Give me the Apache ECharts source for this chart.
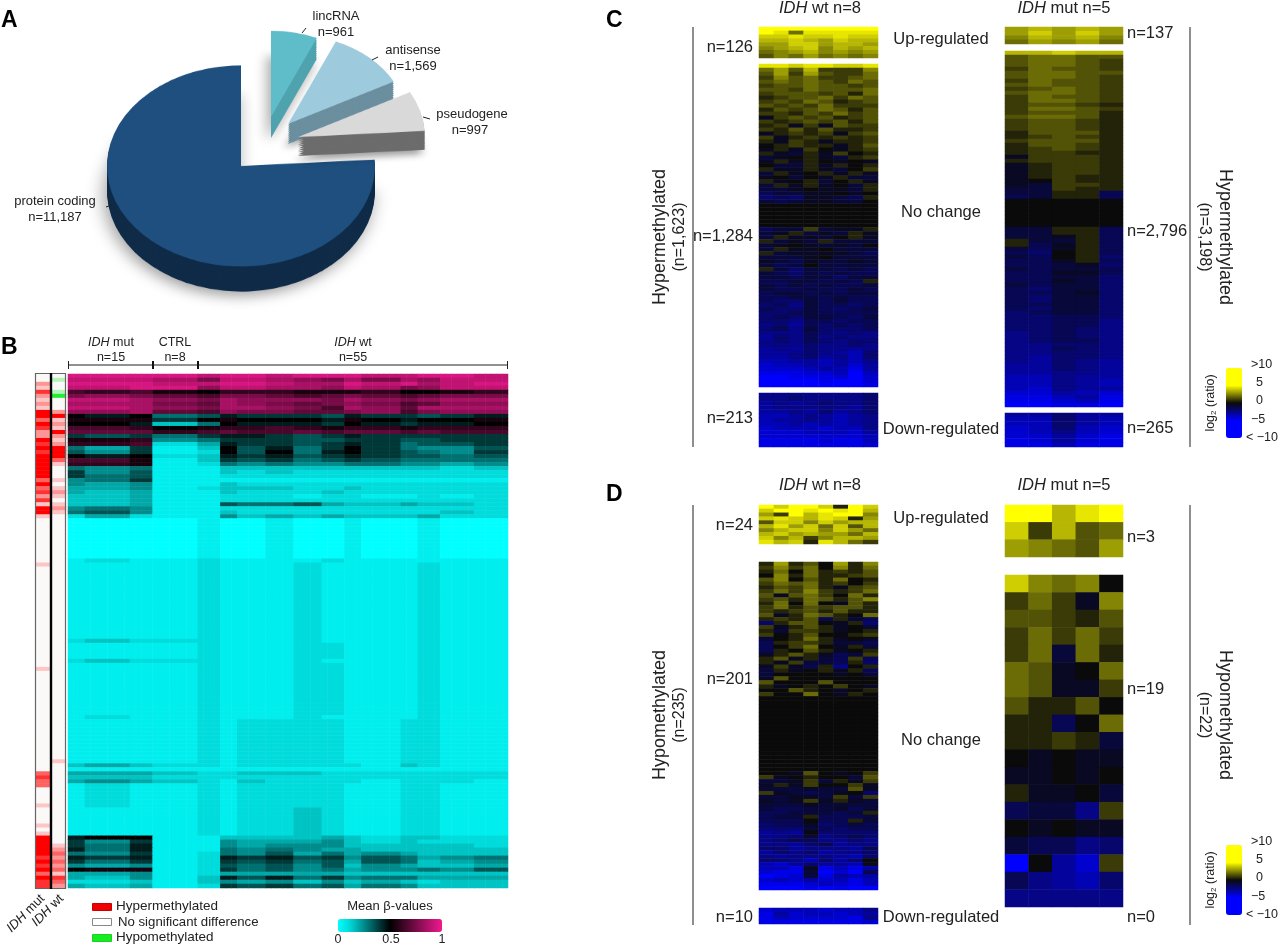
<!DOCTYPE html>
<html>
<head>
<meta charset="utf-8">
<script src="https://cdn.jsdelivr.net/npm/echarts@6/dist/echarts.min.js"></script>
<style>
html,body{margin:0;padding:0;background:#fff;width:1280px;height:946px;overflow:hidden}
#pie{position:absolute;left:0;top:0;width:560px;height:420px;transform-origin:0 0;transform:scaleY(.75)}
#main{position:absolute;left:0;top:0;width:1280px;height:946px}
</style>
</head>
<body>
<div id="pie"></div>
<div id="main"></div>
<script>
// ---------- Panel A ----------
const pieNames = ['lincRNA', 'antisense', 'pseudogene', 'protein coding'];
const pieValues = [961, 1569, 997, 11187];

// ---------- Panel B: levels 0..k = beta 0..1 (20 steps); columns grouped in blocks ----------
const bBlockColumns = [3, 8, 4, 8, 4, 3, 5, 5, 5, 4, 3, 7, 3, 4, 6, 6];
const bRowsTop = [
"jjjjijjijjjiijji","iiihfiihgfhfhgii","jjjiijjihhjijhij","iijjgiihhgihfgii","dcdbacccbbbcaabc",
"fgfedffedefedeff","iihgfhgggfhgfghh","hhhfehgfefgfdegg","iihgfhhgfdhgehhh","gghedgffeefgdfgg",
"a9a6798887988789","bbb8abaaa9ba9aab","aa936a9998a9899a","ddcabccdcbccbccc","eeecdeddedeededd",
"8786899878988888","bbc5688877887788","ccd2498878986778","64813a7968a86557","75812a7a69a87658",
"a9a2398978987767","ddb1387867876666","ccb1265655665545","6561133333333323","8571132322222222",
"8671122222222222","5681111111111111","5451132222222222","4451233322322222","4341132223222222",
"3341122212211212","3341122222222222","3341176674334332","5651122222222222","6751132222222232",
"2421153434333422"];
const bRowsMiddle = [
[10,"0000100100100100"],[1,"1211211112111111"],[19,"1111211121111211"],[1,"2322211121111211"],
[4,"1111211122111211"],[1,"2322211121111211"],[13,"1111211122111211"],[1,"1211211121111211"],
[11,"1111212222112211"],[1,"3432212222213211"],[1,"1111111111111111"],[1,"4443223332222222"],
[1,"3332222222222222"],[1,"4543213222212221"],[6,"1211212222112211"],[7,"1111212232112211"]];
const bRowsBottom = [
"9aa1133334323322","8581154445323222","8691154555333332","9691165654433333","6581265746454333",
"9891298978576456","8681287867476345","5451276757354334","abb1286756455657","4451244444333333",
"4351397968566444","2231354535343233","4341287867465333"];
// strips: 0 white, 1..5 pink to red, a..c green
const stripMut = ["002142121553542254545555553534241551","00000000000","1","0000000000000000000000000","1","0000000000000000000000000","3433","0000","1","0000","1","0","1","5555545453544"];
const stripWt = ["0a00ac000251215212555310001012101210","000000000000000000000000000000","000000000000000000000000000000","1","000000000000000000","0012323231432"];

// ---------- Panels C and D: 0..9,X = up, a..j = down, unit 0.5 log2 ----------
const cWtUp = ["XXXXXXXX","X9499999","88988988","77876877","66886776","56785767","45675656","35464545"];
const cWtMain = [
"99899889","46372225","36263224","25342234","34343243","23343323","33243334","23332314","12334243","23243123",
"32324222","13234313","22132423","a2323123","21232313","12a2a322","21313112","a1212a23","2a121212","1a21a112",
"01211a13","a1a20a12","1ab1a201","ba01ab12","a1a10a0a","0bb1a101","1aa1ab02","b1a01a1a","a0b0a1bb","1a01b01a",
"b1a1a0b1","bba0aab1","cbbaa0a0","dcdaabc1","bcbaabb0",
"00000000","00000000","00000000","00000000","00000000","00000000",
"cbb2baa1","ba1bab1a","b1aab01a","1bab1bbb","ba0abab0","b1aa0bbb","1baaaabc","bbba0bbb","abcabbab","bcb0bbbb",
"1bdbbcbc","bcdbcbcc","bbcbbdbb","ccbbcbc1","bcbcbccb","bccbccbc","cbbcbcbb","ccbbcbcc","cddbcbcc","dcebccdc",
"cddbcdcb","ddcbcccc","dcdbbcdb","ddeccdcc","edfcdcdc","dcebdddc","eeecdede","fdecedee","edecdedd","eeedeede",
"fefdeefe","ffedefgd","ffedfegd","ggffgfge","hggfgfhf","hhhgfgif","iiihhgjg","jjiiihjh","jjjjijjh","jjjjjjji"];
const cWtDown = ["eeeeeeed","eedeeeed","fefedeed","feeeeefd","ffefdfed","ggfefgfe","gffefgfe","ggfgfgfe","hggghgge","hhhggghf","hhhhhhhg","iiiihiig","iiiiiiih"];
const cMutUp = ["67676","68686","57675","46564"];
const cMutMain = [
"77877","34433","34432","34432","24332","34433","34432","24332","34332","23432",
"34432","24332","24432","23321","24432","23331","34431","23321","23321","23321",
"13331","12321","23331","13321","12321","12211","a2221","12221","a1221","a1221",
"a1221","a1211","a0211","ab221","bb211","bb11c","cb11c",
"00000","00000","00000","00000","00000","00000","00000",
"bb11c","bb11c","bba1c","1bb1c","1ca1c","bca1c","cd01c","bc01d","cca1c","ccbad",
"bcbbc","ccaac","ccbbd","ccabd","bcbbd","cdbbd","ccbad","cdbbd","cdbbd","ccbbd",
"cdbbd","dcbbd","ddccd","ddcce","ddcce","ddcde","edcde","edcde","edcce","eedde",
"eecde","eedde","efdde","efdef","ffdef","ffdef","ffeef","ggeff","ggefg","ggefg",
"gheff","hhfgh","iigfi","iihgi","jjiij"];
const cMutDown = ["ffdff","ggdfg","ggdfg","hgdgh","hgegh","hhfhi","ihfhi","iigii"];

const dWtUp = ["X8XX81X8","8XX9X9X7","62X79XX5","89879816","38858677","79684837","57885864","78676647","85725776","97819742"];
const dWtMain = [
"16130615","25240514","14041213","05141123","35031401","24341202","13241a23","24252124","3a342041","23143135",
"14040a31","24132331","21231311","3a143104","1213c1bc","d1330a1d","2a131a0b","1b221a01","20130012","b0141a0a",
"c1221bbc","c0240a1b","c1031a01","a131acb2","13a1bc2c","1a2bbc1d","a2ac1e01","b1a01a1c",
"b0000a0b","a3000000","30003000","1a01020a","00310a01","20040a10",
"00000000","00000000","00000000","00000000","00000000","00000000","00000000","00000000","00000000","00000000",
"00000000","00000000","00000000","00000000","00000000","00000000","00000000","00000000","00000000",
"00a30a02","2a0100b3","bba2b1a2","a1a2002a","bbbabb3a","2abcba0d","bbaab2b2","aba2a1ab","bbbabbbb","bccbbacb",
"ccbbbcb1","cbb1cccb","ccc0cc1b","dccadcbc","dddbcdcc","fef0dddd","eedbedcd","edcceede","eefdcfee","ddfeeefc",
"fdedfeed","efeeefgd","ddegdfd0","ghfdffga","ggiaigif","hiibjhjc","jihbifgf","hghfhgig","iiihghig","jjjijijj"];
const dWtDown = ["hggghgge","ifhgghgf","ighhhhie","iiiiiiih"];
const dMutUp = ["XX79X","82734","65436"];
const dMutMain = [
"85450","242a5","33213","24242","24b41","43a04","43aa2","31130","11c04","1121b",
"0a0aa","aa0a0","1aa0b","cbbe2","0a0aa","bcced","j0fh2","cefgd","eeeee"];

// ---------- decoders ----------
const bScale = '0123456789abcdefghijk';
const decodeB = c => bScale.indexOf(c) / 20;
const decodeLog = c => {
  if (c === 'X') return 5;
  if (c >= '0' && c <= '9') return +c * 0.5;
  return -('abcdefghij'.indexOf(c) + 1) * 0.5;
};
const decodeStrip = c => (c >= '0' && c <= '9') ? +c / 5 : -('abc'.indexOf(c) + 1) / 3;

// ---------- option assembly ----------
const grids = [], xAxes = [], yAxes = [], series = [];
function addHeat(box, matrix) {
  const i = grids.length;
  grids.push({left: box[0], top: box[1], width: box[2] - box[0], height: box[3] - box[1]});
  const nx = matrix[0].length, ny = matrix.length;
  xAxes.push({type: 'category', gridIndex: i, show: false, data: Array.from({length: nx}, (_, k) => k)});
  yAxes.push({type: 'category', gridIndex: i, show: false, inverse: true, data: Array.from({length: ny}, (_, k) => k)});
  const data = [];
  matrix.forEach((row, y) => row.forEach((v, x) => data.push([x, y, v])));
  series.push({type: 'heatmap', xAxisIndex: i, yAxisIndex: i, data, silent: true, progressive: 0, animation: false, emphasis: {disabled: true}});
  return series.length - 1;
}
const logM = rows => rows.map(r => r.split('').map(decodeLog));

const bRowStrings = [...bRowsTop];
bRowsMiddle.forEach(([n, s]) => { for (let k = 0; k < n; k++) bRowStrings.push(s); });
bRowStrings.push(...bRowsBottom);
const bMatrix = bRowStrings.map(s => {
  const row = [];
  s.split('').forEach((c, i) => { for (let k = 0; k < bBlockColumns[i]; k++) row.push(decodeB(c)); });
  return row;
});
const sB = [addHeat([68, 374, 508, 888], bMatrix)];
const sStrip = [
  addHeat([36, 374, 50, 888], stripMut.join('').split('').map(c => [decodeStrip(c)])),
  addHeat([52, 374, 66, 888], stripWt.join('').split('').map(c => [decodeStrip(c)]))
];
const sC = [
  addHeat([759, 27, 878, 58], logM(cWtUp)),
  addHeat([759, 64, 878, 387], logM(cWtMain)),
  addHeat([759, 393, 878, 447], logM(cWtDown)),
  addHeat([1005, 27, 1123, 44], logM(cMutUp)),
  addHeat([1005, 51, 1123, 407], logM(cMutMain)),
  addHeat([1005, 413, 1123, 447], logM(cMutDown))
];
const sD = [
  addHeat([759, 505, 878, 544], logM(dWtUp)),
  addHeat([759, 562, 878, 890], logM(dWtMain)),
  addHeat([759, 908, 878, 924], logM(dWtDown)),
  addHeat([1005, 505, 1123, 557], logM(dMutUp)),
  addHeat([1005, 575, 1123, 907], logM(dMutMain))
];

const logColors = ['#0000ff', '#0000ff', '#0a0a0a', '#ffff00', '#ffff00'];
const betaColors = ['#00ffff','#00eeee','#00dcdc','#00c4c4','#00a8a8','#008c8c','#007070','#005454','#003838','#001c1c','#000000',
  '#18020e','#30051d','#48072b','#600a39','#780c48','#900e56','#a81164','#c01372','#d81681','#f0188f'];
const vmBase = {type: 'continuous', calculable: false, hoverLink: false, padding: 0, text: null, textStyle: {fontSize: 0}};
const visualMaps = [
  {...vmBase, min: 0, max: 1, seriesIndex: sB, orient: 'horizontal', left: 338, top: 919, itemWidth: 13, itemHeight: 104,
    inRange: {color: betaColors}},
  {...vmBase, min: -1, max: 1, seriesIndex: sStrip, show: false, inRange: {color: ['#22ee33', '#fbf8f8', '#ff0000']}},
  {...vmBase, min: -10, max: 10, seriesIndex: sC, left: 1226, top: 368, itemWidth: 16, itemHeight: 70, inRange: {color: logColors}},
  {...vmBase, min: -10, max: 10, seriesIndex: sD, left: 1226, top: 845, itemWidth: 16, itemHeight: 70, inRange: {color: logColors}}
];

// ---------- text and rules ----------
const FONT = '"Liberation Sans", Arial, sans-serif';
const richItalic = size => ({i: {fontStyle: 'italic', fontSize: size, fontFamily: FONT, fill: '#222'}, n: {fontSize: size, fontFamily: FONT, fill: '#222'},
  s: {fontSize: Math.round(size * 0.65), fontFamily: FONT, fill: '#222', padding: [5, 0, 0, 0]}});
const gfx = [];
function txt(x, y, text, size, align, rot, extra) {
  gfx.push({type: 'text', x, y, rotation: rot || 0, z: 20, silent: true,
    style: Object.assign({text, fontSize: size, fontFamily: FONT, fill: '#222', align: align || 'center', verticalAlign: 'middle', rich: richItalic(size)}, extra || {})});
}
function line(x1, y1, x2, y2, w, c) {
  gfx.push({type: 'line', z: 20, silent: true, shape: {x1, y1, x2, y2}, style: {stroke: c || '#333', lineWidth: w || 1}});
}
function rect(x, y, w, h, fill, stroke, lw) {
  gfx.push({type: 'rect', z: 20, silent: true, shape: {x, y, width: w, height: h}, style: {fill: fill || 'transparent', stroke: stroke || null, lineWidth: lw || 1}});
}
const big = {fontWeight: 'bold', fill: '#000'};
txt(1, 21, 'A', 23, 'left', 0, big); txt(1, 348, 'B', 23, 'left', 0, big);
txt(606, 21, 'C', 23, 'left', 0, big); txt(606, 495, 'D', 23, 'left', 0, big);

// panel A labels
txt(336, 16, 'lincRNA', 13); txt(336, 32, 'n=961', 13); line(302, 33, 306, 28, 1, '#222');
txt(413, 50, 'antisense', 13); txt(413, 66, 'n=1,569', 13); line(372, 60, 378, 57, 1, '#222');
txt(472, 114, 'pseudogene', 13); txt(470, 130, 'n=997', 13); line(423, 117, 430, 119, 1, '#222');
txt(55, 201, 'protein coding', 13); txt(55, 217, 'n=11,187', 13); line(106, 207, 112, 205, 1, '#222');

// panel B header
txt(111, 343, '{i|IDH}{n| mut}', 12.5); txt(111, 358, 'n=15', 12.5);
txt(175, 343, 'CTRL', 12.5); txt(175, 358, 'n=8', 12.5);
txt(353, 343, '{i|IDH}{n| wt}', 12.5); txt(353, 358, 'n=55', 12.5);
line(68, 365, 508, 365, 1, '#222');
line(68.5, 361, 68.5, 369, 1, '#222'); line(153, 361, 153, 369, 2, '#111'); line(198, 361, 198, 369, 2, '#111'); line(507.5, 361, 507.5, 369, 1, '#222');
// strips frame
rect(35.5, 373.5, 30, 515, null, '#666', 1.2);
line(51, 373, 51, 889, 2.4, '#000');
txt(38, 892, '{i|IDH}{n| mut}', 13, 'right', Math.PI / 4, {verticalAlign: 'top'});
txt(57, 892, '{i|IDH}{n| wt}', 13, 'right', Math.PI / 4, {verticalAlign: 'top'});
// panel B legend
rect(92.5, 903.5, 19, 7, '#ee0000', '#c00', 1); txt(116, 906, 'Hypermethylated', 13.5, 'left');
rect(92.5, 918.5, 19, 7, '#fff', '#888', 1); txt(118, 922, 'No significant difference', 13.2, 'left');
rect(92.5, 934.5, 19, 7, '#11ee22', '#2c2', 1); txt(116, 937, 'Hypomethylated', 13.5, 'left');
txt(390, 906, 'Mean β-values', 13);
txt(338, 940, '0', 12.5); txt(391, 940, '0.5', 12.5); txt(442, 940, '1', 12.5);

// panels C, D
function panel(heads, wtN, mutN, mid, leftTitle, rightTitle, rules) {
  txt(820, heads, '{i|IDH}{n| wt n=8}', 16.5); txt(1064, heads, '{i|IDH}{n| mut n=5}', 16.5);
  wtN.forEach(([s, y]) => txt(753, y, s, 16.5, 'right'));
  mutN.forEach(([s, y]) => txt(1127, y, s, 16.5, 'left'));
  mid.forEach(([s, y]) => txt(941, y, s, 16.5));
  txt(660, rules[2], leftTitle[0], 18, 'center', Math.PI / 2); txt(680, rules[2], leftTitle[1], 16, 'center', Math.PI / 2);
  txt(1225, rules[2], rightTitle[0], 18, 'center', -Math.PI / 2); txt(1204, rules[2], rightTitle[1], 16, 'center', -Math.PI / 2);
  line(693, rules[0], 693, rules[1], 1.2, '#444'); line(1190, rules[0], 1190, rules[1], 1.2, '#444');
}
panel(8,
  [['n=126', 47], ['n=1,284', 236], ['n=213', 418]],
  [['n=137', 33], ['n=2,796', 231], ['n=265', 428]],
  [['Up-regulated', 39], ['No change', 212], ['Down-regulated', 429]],
  ['Hypermethylated', '(n=1,623)'], ['Hypermethylated', '(n=3,198)'], [27, 447, 237]);
panel(485,
  [['n=24', 525], ['n=201', 679], ['n=10', 917]],
  [['n=3', 537], ['n=19', 689], ['n=0', 917]],
  [['Up-regulated', 518], ['No change', 740], ['Down-regulated', 917]],
  ['Hypomethylated', '(n=235)'], ['Hypomethylated', '(n=22)'], [505, 925, 715]);
function colorbarText(y0) {
  txt(1251, y0 - 2, '>10', 12.5, 'left'); txt(1256, y0 + 16, '5', 12.5, 'left'); txt(1256, y0 + 34, '0', 12.5, 'left');
  txt(1251, y0 + 53, '−5', 12.5, 'left'); txt(1246, y0 + 71, '< −10', 12.5, 'left');
  txt(1211, y0 + 36, 'log{s|2}{n| (ratio)}', 12.5, 'center', Math.PI / 2);
}
colorbarText(367); colorbarText(844);

echarts.init(document.getElementById('main')).setOption({
  animation: false, backgroundColor: 'transparent',
  grid: grids, xAxis: xAxes, yAxis: yAxes, visualMap: visualMaps, series, graphic: {elements: gfx}
});

// ---------- Panel A pie: a real pie per exploded slice, stacked copies form the wall ----------
const S = 0.75;
const pieSeries = [];
function slice(index, cx, cy, r, top, wall, depth, shadow) {
  const n = Math.round(depth / 2);
  for (let k = n; k >= 0; k--) {
    const d = depth * k / n;
    pieSeries.push({
      type: 'pie', silent: true, animation: false, startAngle: 90, clockwise: true, radius: [0, r],
      center: [cx, (cy + d) / S], label: {show: false}, labelLine: {show: false}, emphasis: {disabled: true},
      data: pieValues.map((value, i) => ({
        name: pieNames[i], value,
        itemStyle: i === index
          ? Object.assign({color: k === 0 ? top : wall}, k === n ? {shadowBlur: shadow, shadowColor: 'rgba(0,0,0,.38)', shadowOffsetY: 6, shadowOffsetX: -3} : {})
          : {color: 'rgba(0,0,0,0)'}
      }))
    });
  }
}
slice(3, 241, 166, 134, '#1f4f7e', '#0f2b48', 25, 18);
slice(0, 271, 117, 115, '#5fbcc9', '#4fa3ae', 21, 14);
slice(1, 288, 124, 120, '#9dcbdd', '#6b8f9e', 20, 10);
slice(2, 298, 137, 127, '#d9d9d9', '#6c6c6c', 19, 10);
echarts.init(document.getElementById('pie')).setOption({animation: false, series: pieSeries});
</script>
</body>
</html>
